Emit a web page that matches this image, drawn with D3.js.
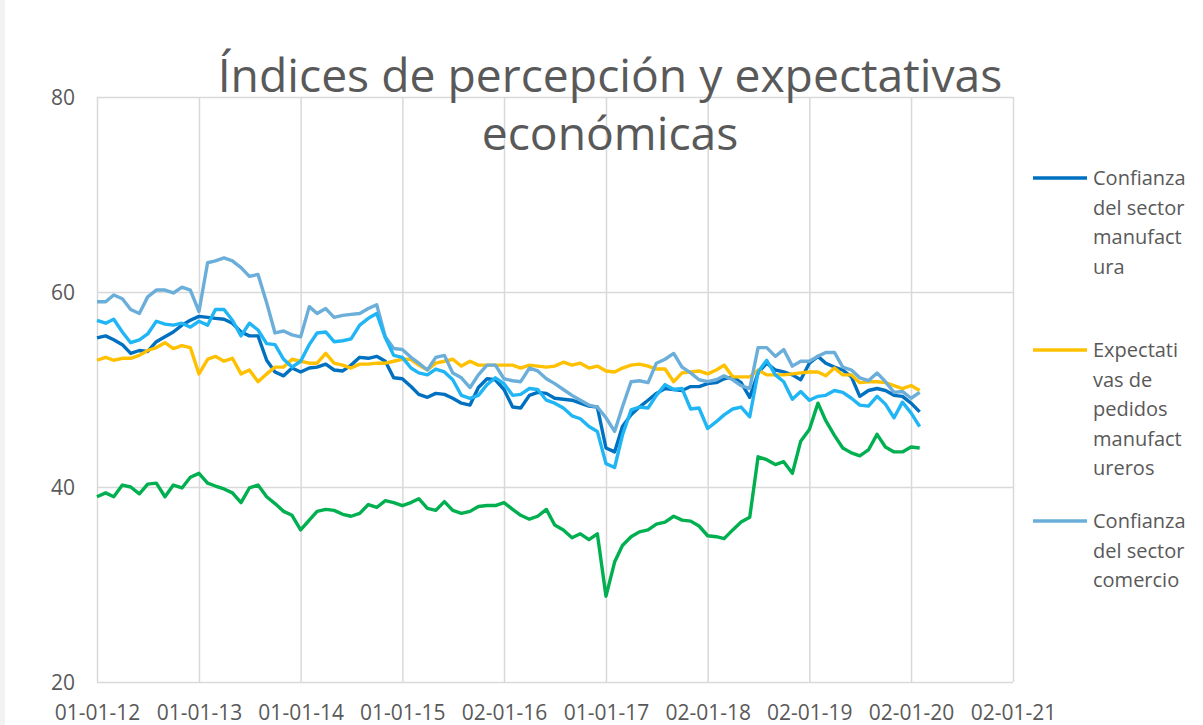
<!DOCTYPE html>
<html>
<head>
<meta charset="utf-8">
<script src="https://cdn.jsdelivr.net/npm/d3@7"></script>
<style>
body { margin: 0; background: #fff; }
text { font-family: "Open Sans", sans-serif; fill: #595959; }
</style>
</head>
<body>
<div id="chart"></div>
<script>
// tick labels of the date axis (one per year)
var tickLabels = ['01-01-12', '01-01-13', '01-01-14', '01-01-15', '02-01-16',
	'01-01-17', '02-01-18', '02-01-19', '02-01-20', '02-01-21'];
var yTicks = [20, 40, 60, 80];

// monthly values, jan 2012 - feb 2020
var manufactura = [
	55.3, 55.5, 55.1, 54.6, 53.7, 54.0, 53.9, 54.9, 55.4, 55.9, 56.6, 57.1,
	57.5, 57.4, 57.3, 57.2, 56.8, 55.9, 55.5, 55.5, 53.0, 51.8, 51.4, 52.2,
	51.8, 52.2, 52.3, 52.6, 52.0, 51.9, 52.5, 53.3, 53.2, 53.4, 52.9, 51.2,
	51.1, 50.3, 49.5, 49.2, 49.6, 49.5, 49.1, 48.6, 48.4, 50.2, 51.1, 51.0,
	50.0, 48.2, 48.1, 49.4, 49.7, 49.6, 49.1, 49.0, 48.9, 48.6, 48.3, 48.2,
	44.0, 43.6, 46.2, 47.4, 48.2, 48.9, 49.6, 50.1, 50.0, 49.9, 50.3, 50.3,
	50.6, 50.7, 51.1, 51.3, 50.7, 49.2, 51.7, 52.7, 52.0, 51.8, 51.5, 51.0,
	52.7, 53.4, 52.7, 52.3, 52.0, 51.3, 49.3, 49.9, 50.1, 49.9, 49.4, 49.3,
	48.6, 47.7
];
var pedidos = [
	53.0, 53.3, 53.0, 53.2, 53.2, 53.5, 54.0, 54.3, 54.8, 54.2, 54.5, 54.3,
	51.6, 53.1, 53.4, 52.9, 53.2, 51.6, 52.0, 50.8, 51.6, 52.3, 52.3, 53.1,
	52.9, 52.7, 52.7, 53.7, 52.7, 52.5, 52.2, 52.6, 52.6, 52.7, 52.7, 52.9,
	53.1, 53.1, 52.5, 52.0, 52.7, 52.9, 53.1, 52.4, 52.9, 52.5, 52.5, 52.5,
	52.5, 52.5, 52.2, 52.5, 52.4, 52.3, 52.4, 52.8, 52.5, 52.7, 52.2, 52.4,
	51.9, 51.8, 52.2, 52.5, 52.6, 52.4, 52.1, 52.1, 50.8, 51.7, 51.8, 51.9,
	51.6, 52.0, 52.5, 51.3, 51.3, 51.3, 52.0, 51.5, 51.5, 51.5, 51.6, 51.7,
	51.8, 51.8, 51.4, 52.2, 51.5, 51.5, 50.7, 50.8, 50.8, 50.7, 50.4, 50.1,
	50.4, 49.9
];
var comercio = [
	59.0, 59.0, 59.7, 59.3, 58.2, 57.8, 59.5, 60.2, 60.2, 59.9, 60.5, 60.2,
	58.0, 63.0, 63.2, 63.5, 63.2, 62.5, 61.6, 61.8, 58.9, 55.8, 56.0, 55.6,
	55.4, 58.5, 57.8, 58.3, 57.4, 57.6, 57.7, 57.8, 58.3, 58.7, 55.4, 54.2,
	54.1, 53.3, 52.7, 52.0, 53.3, 53.5, 51.7, 51.2, 50.2, 51.5, 52.5, 52.5,
	51.1, 50.9, 50.8, 52.2, 51.9, 51.1, 50.6, 50.0, 49.4, 48.9, 48.4, 48.2,
	47.1, 45.7, 48.2, 50.8, 50.9, 50.7, 52.7, 53.1, 53.7, 52.3, 51.7, 51.0,
	50.8, 51.0, 51.4, 51.0, 50.4, 50.1, 54.3, 54.3, 53.4, 54.1, 52.4, 52.9,
	52.9, 53.4, 53.8, 53.8, 52.3, 52.0, 51.2, 50.9, 51.7, 50.8, 49.7, 49.8,
	49.1, 49.7
];
var construccion = [
	57.1, 56.8, 57.2, 55.9, 54.8, 55.1, 55.7, 57.0, 56.7, 56.6, 56.8, 56.4,
	57.0, 56.6, 58.2, 58.2, 57.1, 55.5, 56.8, 56.1, 54.7, 54.6, 53.1, 52.3,
	52.9, 54.6, 55.8, 55.9, 54.9, 55.0, 55.2, 56.6, 57.3, 57.8, 55.3, 53.5,
	53.3, 52.2, 51.7, 51.5, 52.1, 51.8, 51.0, 49.4, 49.1, 49.4, 50.5, 51.2,
	50.6, 49.4, 49.5, 50.1, 50.0, 48.9, 48.6, 48.1, 47.3, 47.0, 46.2, 45.7,
	42.4, 42.0, 45.3, 47.9, 48.2, 48.1, 49.4, 50.5, 50.0, 50.1, 48.0, 48.1,
	46.0, 46.7, 47.4, 48.0, 48.2, 47.2, 51.8, 53.0, 51.5, 50.8, 49.0, 49.8,
	48.9, 49.3, 49.4, 49.9, 49.7, 49.1, 48.4, 48.3, 49.3, 48.5, 47.1, 48.7,
	47.6, 46.2
];
var consumidor = [
	39.0, 39.4, 39.0, 40.2, 40.0, 39.3, 40.3, 40.4, 39.0, 40.2, 39.9, 41.0,
	41.4, 40.4, 40.1, 39.8, 39.4, 38.4, 39.9, 40.2, 39.0, 38.3, 37.5, 37.1,
	35.6, 36.6, 37.5, 37.7, 37.6, 37.2, 37.0, 37.3, 38.2, 37.9, 38.6, 38.4,
	38.1, 38.4, 38.8, 37.8, 37.6, 38.5, 37.6, 37.3, 37.5, 38.0, 38.1, 38.1,
	38.4, 37.7, 37.1, 36.7, 37.0, 37.7, 36.1, 35.6, 34.8, 35.2, 34.6, 35.2,
	28.8, 32.3, 34.0, 34.9, 35.4, 35.6, 36.2, 36.4, 37.0, 36.6, 36.5, 36.0,
	35.0, 34.9, 34.7, 35.6, 36.4, 36.9, 43.1, 42.8, 42.3, 42.6, 41.4, 44.7,
	45.9, 48.6, 46.8, 45.3, 44.0, 43.5, 43.2, 43.8, 45.4, 44.1, 43.6, 43.6,
	44.1, 44.0
];

var seriesColors = ['#0070c0', '#ffc000', '#6baed9', '#20b5f5', '#00b050'];
var legendNames = [
	['Confianza', 'del sector', 'manufact', 'ura'],
	['Expectati', 'vas de', 'pedidos', 'manufact', 'ureros'],
	['Confianza', 'del sector', 'comercio']
];

var svg = d3.select('#chart').append('svg')
	.attr('width', 1203)
	.attr('height', 725);

svg.append('rect').attr('x', 0).attr('y', 0).attr('width', 1203).attr('height', 725).attr('fill', '#fff');
svg.append('rect').attr('x', 0).attr('y', 0).attr('width', 5).attr('height', 725).attr('fill', '#f2f2f2'); //left edge

var plotLeft = 97, plotRight = 1013, plotTop = 97, plotBottom = 682;

var months = d3.utcMonth.range(new Date(Date.UTC(2012, 0, 1)), new Date(Date.UTC(2020, 2, 1)));
var years = d3.utcYear.range(new Date(Date.UTC(2012, 0, 1)), new Date(Date.UTC(2022, 0, 1)));

var x = d3.scaleUtc()
	.domain([years[0], years[years.length - 1]])
	.range([plotLeft, plotRight]);
var y = d3.scaleLinear()
	.domain([20, 80])
	.range([plotBottom, plotTop]);

// gridlines + labels
var yAxis = svg.append('g')
	.attr('transform', 'translate(' + plotLeft + ',0)')
	.call(d3.axisLeft(y).tickValues(yTicks).tickSize(-(plotRight - plotLeft)).tickPadding(22));
var xAxis = svg.append('g')
	.attr('transform', 'translate(0,' + plotBottom + ')')
	.call(d3.axisBottom(x).tickValues(years).tickSize(-(plotBottom - plotTop)).tickPadding(23)
		.tickFormat(function (d, i) { return tickLabels[i]; }));

[xAxis, yAxis].forEach(function (g) {
	g.select('.domain').remove();
	g.selectAll('line').attr('stroke', '#d9d9d9').attr('stroke-width', 1.5);
	g.selectAll('text').style('font-family', '"Open Sans", sans-serif')
		.style('font-size', '21px').attr('fill', '#595959');
});
yAxis.selectAll('text').attr('dy', '0.35em');

// lines
var line = d3.line()
	.x(function (d, i) { return x(months[i]); })
	.y(function (d) { return y(d); });

[manufactura, pedidos, comercio, construccion, consumidor].forEach(function (s, k) {
	svg.append('path')
		.datum(s)
		.attr('d', line)
		.attr('fill', 'none')
		.attr('stroke', seriesColors[k])
		.attr('stroke-width', 3.4)
		.attr('stroke-linejoin', 'round');
});

// title
var title = svg.append('text')
	.attr('text-anchor', 'middle')
	.style('font-size', '45px');
title.append('tspan').attr('x', 610).attr('y', 92).text('Índices de percepción y expectativas');
title.append('tspan').attr('x', 610).attr('y', 150).text('económicas');
var w = title.select('tspan').node().getComputedTextLength();
title.style('font-size', (45 * 785 / w) + 'px');

// legend
var legendY = [178, 350, 521];
legendNames.forEach(function (lines, k) {
	var g = svg.append('g');
	g.append('line')
		.attr('x1', 1033).attr('x2', 1087)
		.attr('y1', legendY[k]).attr('y2', legendY[k])
		.attr('stroke', seriesColors[k])
		.attr('stroke-width', 3.4);
	g.selectAll('text').data(lines).enter().append('text')
		.attr('x', 1093)
		.attr('y', function (d, i) { return legendY[k] + i * 29.5; })
		.attr('dy', '0.35em')
		.style('font-size', '20px')
		.text(function (d) { return d; });
});
</script>
</body>
</html>
